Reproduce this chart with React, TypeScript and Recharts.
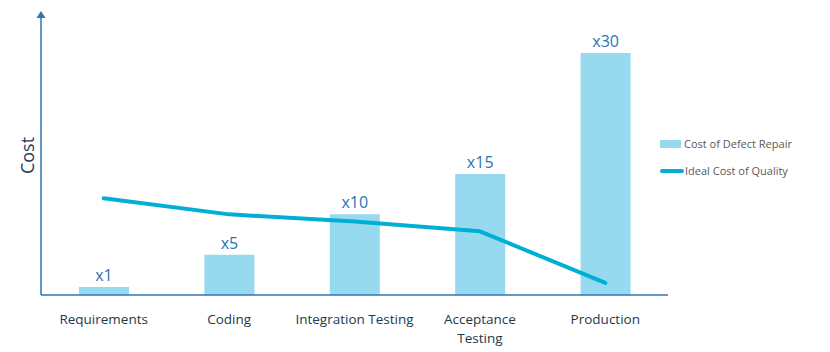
import React from 'react';
import { ComposedChart, Bar, Line, XAxis, YAxis, LabelList, Legend } from 'recharts';

const categories = ['Requirements', 'Coding', 'Integration Testing', 'Acceptance Testing', 'Production'];
const tickLines = [['Requirements'], ['Coding'], ['Integration Testing'], ['Acceptance', 'Testing'], ['Production']];
const defectRepair = [1, 5, 10, 15, 30];
const idealQuality = [12.0, 10.0, 9.1, 7.9, 1.5];

const data = categories.map((c, i) => ({
  name: c,
  repair: defectRepair[i],
  ideal: idealQuality[i],
}));

const FONT = '"Open Sans", "Noto Sans", sans-serif';
const AXIS = '#2e75b6';
const BAR = '#97d9ef';
const LINE = '#00afd6';

const Tick = (props: any) => {
  const { x, y, payload, index } = props;
  const lines = tickLines[payload?.index ?? index] || [payload.value];
  return (
    <text x={x} y={y + 21} textAnchor="middle" fontFamily={FONT} fontSize={13.5} fill="#24384c">
      {lines.map((l: string, i: number) => (
        <tspan key={i} x={x} dy={i === 0 ? 0 : 19}>{l}</tspan>
      ))}
    </text>
  );
};

const YLabel = (props: any) => {
  const vb = props.viewBox || {};
  const ax = vb.x + vb.width;
  const top = vb.y;
  const cy = vb.y + vb.height / 2;
  return (
    <g>
      <polygon points={`${ax - 4.5},${top + 2} ${ax + 4.5},${top + 2} ${ax},${top - 5}`} fill={AXIS} />
      <text x={27} y={cy} transform={`rotate(-90, 27, ${cy})`} textAnchor="middle" dominantBaseline="central" fontFamily={FONT} fontSize={18} fill="#1f3b5a">Cost</text>
    </g>
  );
};

const LegendContent = () => (
  <div style={{ fontFamily: FONT, fontSize: 11, color: '#595959', lineHeight: '14px' }}>
    <div style={{ display: 'flex', alignItems: 'center', height: 14 }}>
      <span style={{ display: 'inline-block', width: 21, height: 8, background: BAR, marginRight: 3 }} />
      <span>Cost of Defect Repair</span>
    </div>
    <div style={{ display: 'flex', alignItems: 'center', height: 14, marginTop: 13 }}>
      <span style={{ display: 'inline-block', width: 24, height: 4, borderRadius: 2, background: LINE, marginRight: 1 }} />
      <span>Ideal Cost of Quality</span>
    </div>
  </div>
);

export default function App() {
  return (
    <div style={{ position: 'absolute', left: 0, top: 0, width: 830, height: 352, background: '#fff' }}>
      <ComposedChart width={830} height={352} data={data} margin={{ top: 16, right: 162, bottom: 0, left: 11 }}>
        <XAxis dataKey="name" height={57} axisLine={{ stroke: AXIS, strokeWidth: 1.5 }} tickLine={false} tick={<Tick />} interval={0} />
        <YAxis width={30} domain={[0, 34.6]} tick={false} tickLine={false} axisLine={{ stroke: AXIS, strokeWidth: 1.5 }} label={<YLabel />} />
        <Legend layout="vertical" align="center" verticalAlign="middle" content={<LegendContent />}
          wrapperStyle={{ position: 'absolute', left: 660, top: 137, width: 160, height: 50 }} />
        <Bar dataKey="repair" name="Cost of Defect Repair" fill={BAR} barSize={50} isAnimationActive={false}>
          <LabelList dataKey="repair" position="top" offset={6} formatter={(v: any) => 'x' + v} fill="#2a73b5" fontSize={16} fontFamily={FONT} />
        </Bar>
        <Line dataKey="ideal" name="Ideal Cost of Quality" type="linear" stroke={LINE} strokeWidth={4} strokeLinecap="round" strokeLinejoin="round" dot={false} activeDot={false} isAnimationActive={false} />
      </ComposedChart>
    </div>
  );
}
